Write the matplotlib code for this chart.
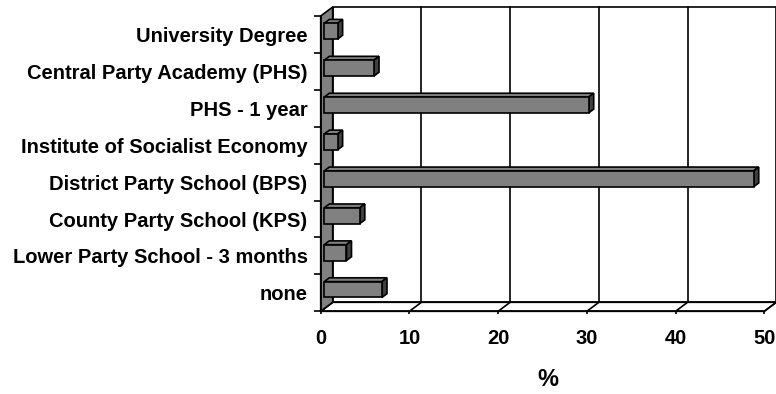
import matplotlib.pyplot as plt
from matplotlib.patches import Polygon
from matplotlib.ticker import FixedLocator

categories = [
    "none",
    "Lower Party School - 3 months",
    "County Party School (KPS)",
    "District Party School (BPS)",
    "Institute of Socialist Economy",
    "PHS - 1 year",
    "Central Party Academy (PHS)",
    "University Degree",
]
values = [6.5, 2.5, 4.0, 48.4, 1.5, 29.8, 5.6, 1.5]
x_ticks = [0, 10, 20, 30, 40, 50]

plt.rcParams["font.family"] = ["Liberation Sans", "DejaVu Sans"]
plt.rcParams["font.weight"] = "bold"

# depth of the fake 3d box, in data units (x: value, y: category)
DX, DY = 1.35, 0.244
BAR_F = 0.3      # where the bar's front face sits inside the depth
BAR_D = 0.42     # bar thickness as fraction of depth
BAR_H = 0.43
GREY, DARK = "#808080", "#404040"

fig = plt.figure(figsize=(7.76, 3.94), dpi=100)
ax = fig.add_axes([320.7 / 776, 1 - 311.3 / 394, 443.6 / 776, 295.3 / 394])
ax.set_xlim(x_ticks[0], x_ticks[-1])
ax.set_ylim(-0.5, len(categories) - 0.5)
for s in ax.spines.values():
    s.set_visible(False)

lo, hi = -0.5, len(categories) - 0.5
xmax = x_ticks[-1]


def poly(pts, fc, z):
    ax.add_patch(Polygon(pts, closed=True, facecolor=fc, edgecolor="black",
                         linewidth=1.2, clip_on=False, zorder=z))


# back wall, floor, left wall
poly([(DX, lo + DY), (xmax + DX, lo + DY), (xmax + DX, hi + DY), (DX, hi + DY)], "white", 1)
poly([(0, lo), (xmax, lo), (xmax + DX, lo + DY), (DX, lo + DY)], "white", 1)
poly([(0, lo), (DX, lo + DY), (DX, hi + DY), (0, hi)], GREY, 2)
for t in x_ticks[1:-1]:
    ax.plot([t + DX, t + DX], [lo + DY, hi + DY], color="black", lw=1.2, zorder=1.5, clip_on=False)
for t in x_ticks:
    ax.plot([t, t + DX], [lo, lo + DY], color="black", lw=1.2, zorder=1.5, clip_on=False)

# bars
x0 = BAR_F * DX
dx, dy = BAR_D * DX, BAR_D * DY
ys = [i + 0.09 for i in range(len(categories))]
ax.barh(ys, values, height=BAR_H, left=x0, color=GREY, edgecolor="black",
        linewidth=1.2, zorder=4, clip_on=False)
for y, v in zip(ys, values):
    yb, yt = y - BAR_H / 2, y + BAR_H / 2
    poly([(x0, yt), (x0 + v, yt), (x0 + v + dx, yt + dy), (x0 + dx, yt + dy)], GREY, 3)
    poly([(x0 + v, yb), (x0 + v + dx, yb + dy), (x0 + v + dx, yt + dy), (x0 + v, yt)], DARK, 3)

# ticks
ax.set_xticks(x_ticks)
ax.set_xticklabels([str(t) for t in x_ticks])
ax.tick_params(axis="x", length=2.5, width=1.2, pad=10, labelsize=14.5)
ax.set_yticks(range(len(categories)))
ax.set_yticklabels(categories)
ax.yaxis.set_minor_locator(FixedLocator([i - 0.5 for i in range(len(categories) + 1)]))
ax.tick_params(axis="y", which="major", length=0, pad=9.5, labelsize=14.5)
ax.tick_params(axis="y", which="minor", length=5, width=1.2)
ax.plot([0, 0], [lo, hi], color="black", lw=1.2, zorder=5, clip_on=False)
ax.plot([0, xmax], [lo, lo], color="black", lw=1.2, zorder=5, clip_on=False)

fig.text(548 / 776, 1 - 380 / 394, "%", ha="center", va="center", fontsize=17, fontweight="bold")

fig.savefig("out.png", dpi=100)
